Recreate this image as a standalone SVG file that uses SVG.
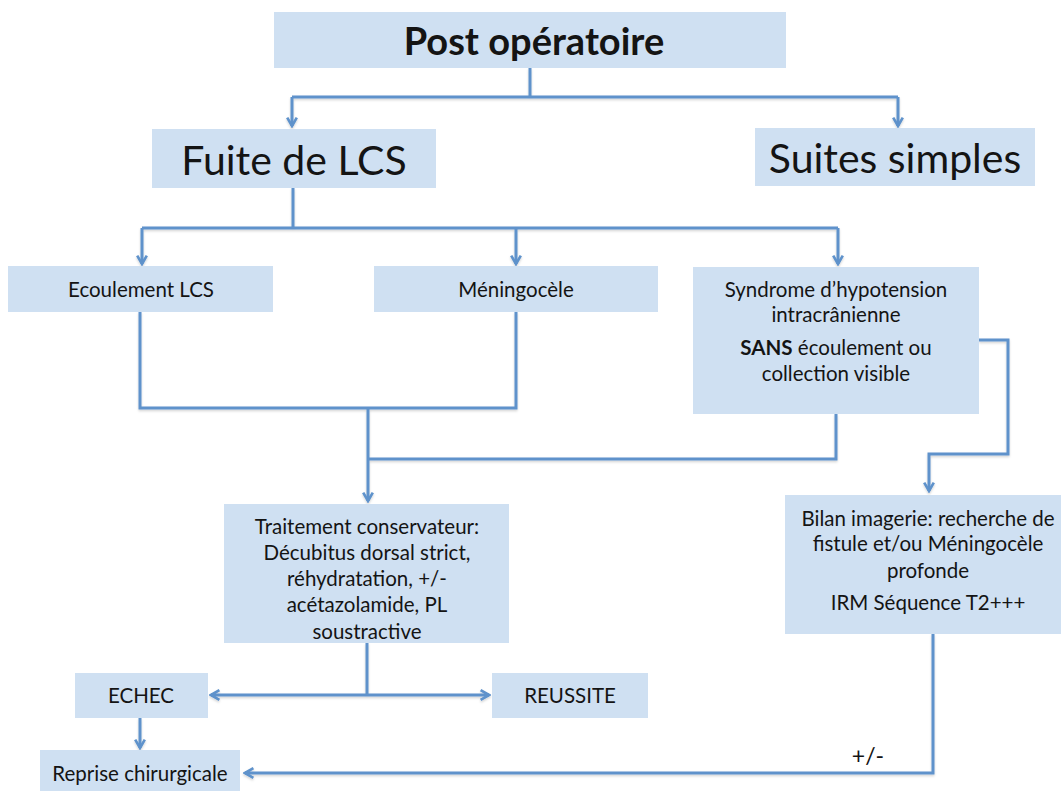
<svg xmlns="http://www.w3.org/2000/svg" width="1061" height="791" viewBox="0 0 1061 791">
<style>
.box{fill:#cfe0f2;}
.t{font-family:Lato,"Liberation Sans",sans-serif;fill:#141414;text-anchor:middle;dominant-baseline:central;}
.s{font-size:20.5px;}
.big{font-size:41px;}
.c{fill:none;stroke:#5e92cb;stroke-width:3;stroke-linejoin:miter;}
</style>
<defs>
<filter id="sh" x="-5%" y="-5%" width="110%" height="120%">
<feDropShadow dx="0" dy="1.5" stdDeviation="1" flood-color="#000" flood-opacity="0.18"/>
</filter>
<marker id="ah" viewBox="0 0 10 10" refX="8" refY="5" markerWidth="4" markerHeight="4" orient="auto" markerUnits="strokeWidth">
<path d="M1,1 L8,5 L1,9" fill="none" stroke="#5e92cb" stroke-width="2.2"/>
</marker>
</defs>
<rect width="1061" height="791" fill="#ffffff"/>

<g id="connectors" filter="url(#sh)">
<path class="c" d="M530,68 V97"/>
<path class="c" d="M292,97 H898"/>
<path class="c" d="M292,97 V126" marker-end="url(#ah)"/>
<path class="c" d="M898,97 V126" marker-end="url(#ah)"/>
<path class="c" d="M293,188 V228"/>
<path class="c" d="M142,228 H838"/>
<path class="c" d="M142,228 V264" marker-end="url(#ah)"/>
<path class="c" d="M516,228 V264" marker-end="url(#ah)"/>
<path class="c" d="M838,228 V264" marker-end="url(#ah)"/>
<path class="c" d="M140,312 V408 H516 V312"/>
<path class="c" d="M836,414 V459 H368"/>
<path class="c" d="M368,408 V501" marker-end="url(#ah)"/>
<path class="c" d="M979,340 H1008 V454 H929 V491" marker-end="url(#ah)"/>
<path class="c" d="M367,643 V695"/>
<path class="c" d="M367,695 H211" marker-end="url(#ah)"/>
<path class="c" d="M367,695 H489" marker-end="url(#ah)"/>
<path class="c" d="M140,718 V748" marker-end="url(#ah)"/>
<path class="c" d="M933,634 V773 H245" marker-end="url(#ah)"/>
</g>

<g id="post-operatoire">
<rect class="box" x="274" y="12" width="512" height="56"/>
<text class="t" x="534" y="40" font-size="38" font-weight="bold">Post opératoire</text>
</g>
<g id="fuite-lcs">
<rect class="box" x="152" y="129" width="284" height="59"/>
<text class="t big" x="294" y="159">Fuite de LCS</text>
</g>
<g id="suites-simples">
<rect class="box" x="755" y="128" width="280" height="58"/>
<text class="t big" x="895" y="157">Suites simples</text>
</g>
<g id="ecoulement-lcs">
<rect class="box" x="8" y="266" width="265" height="46"/>
<text class="t s" x="141" y="289">Ecoulement LCS</text>
</g>
<g id="meningocele">
<rect class="box" x="374" y="266" width="284" height="46"/>
<text class="t s" x="516" y="289">Méningocèle</text>
</g>
<g id="syndrome">
<rect class="box" x="693" y="267" width="286" height="147"/>
<text class="t s" x="836" y="289">Syndrome d’hypotension</text>
<text class="t s" x="836" y="314">intracrânienne</text>
<text class="t s" x="836" y="347"><tspan font-weight="bold">SANS</tspan> écoulement ou</text>
<text class="t s" x="836" y="373">collection visible</text>
</g>
<g id="traitement">
<rect class="box" x="224" y="504" width="285" height="139"/>
<text class="t s" x="367" y="526">Traitement conservateur:</text>
<text class="t s" x="367" y="552">Décubitus dorsal strict,</text>
<text class="t s" x="367" y="578">réhydratation, +/-</text>
<text class="t s" x="367" y="604">acétazolamide, PL</text>
<text class="t s" x="367" y="631">soustractive</text>
</g>
<g id="bilan">
<rect class="box" x="785" y="495" width="276" height="139"/>
<text class="t s" x="928" y="518">Bilan imagerie: recherche de</text>
<text class="t s" x="928" y="543">fistule et/ou Méningocèle</text>
<text class="t s" x="928" y="570">profonde</text>
<text class="t s" x="928" y="602">IRM Séquence T2+++</text>
</g>
<g id="echec">
<rect class="box" x="75" y="673" width="133" height="45"/>
<text class="t s" x="141" y="695">ECHEC</text>
</g>
<g id="reussite">
<rect class="box" x="492" y="673" width="156" height="45"/>
<text class="t s" x="570" y="695">REUSSITE</text>
</g>
<g id="reprise">
<rect class="box" x="40" y="750" width="200" height="41"/>
<text class="t s" x="140" y="773">Reprise chirurgicale</text>
</g>
<g id="label-pm">
<text class="t" x="868" y="755" font-size="23">+/-</text>
</g>
</svg>
